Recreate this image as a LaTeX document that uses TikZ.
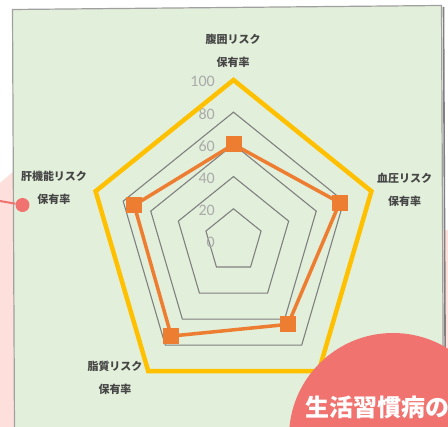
\documentclass[tikz,border=0pt]{standalone}
\usepackage{fontspec}
\newfontfamily\jpfont{Noto Sans CJK JP}
\newfontfamily\numfont{Carlito}
\usepackage{tikz}
\usetikzlibrary{positioning}

\definecolor{chartgreen}{RGB}{226,239,218}
\definecolor{boxgray}{RGB}{160,160,160}
\definecolor{ringgray}{RGB}{128,128,128}
\definecolor{tickgray}{RGB}{170,170,170}
\definecolor{labelgray}{RGB}{70,70,70}
\definecolor{exorange}{RGB}{237,125,49}
\definecolor{exyellow}{RGB}{255,192,0}
\definecolor{salmon}{RGB}{240,115,112}
\definecolor{blush}{RGB}{253,224,220}

\begin{document}
\begin{tikzpicture}[
    x=1pt, y=-1pt,
    axisname/.style={font=\jpfont\bfseries\fontsize{11}{23}\selectfont, text=labelgray, align=center, inner sep=0pt},
    ticklabel/.style={font=\numfont\fontsize{16}{16}\selectfont, text=tickgray, anchor=east, inner sep=0pt},
    ring/.style={draw=ringgray, line width=1.1pt},
    target/.style={draw=exyellow, line width=4.5pt},
    series/.style={draw=exorange, line width=3.5pt},
    marker/.style={rectangle, fill=exorange, minimum size=16pt, inner sep=0pt}
]

  \useasboundingbox (0,0) rectangle (448,427);
  \clip (0,0) rectangle (448,427);

  % Pink background behind the chart
  \fill[blush] (0,183) -- (14,171) -- (14,427) -- (0,427) -- cycle;
  \fill[blush] (443,230) rectangle (448,427);

  % Chart area (slightly tilted)
  \draw[boxgray!80!black, line width=1.6pt] (443.5,7) -- (445.5,432);
  \filldraw[fill=chartgreen, draw=boxgray, line width=1.2pt]
    (12.5,9.5) -- (441.5,5.5) -- (443.5,432) -- (14.5,432) -- cycle;

  \coordinate (c) at (233.5,241);

  \begin{scope}[shift={(c)}, x=1.45pt, y=1.61pt]

    % Grid rings
    \foreach \v in {20,40,...,100}
      \draw[ring] (90:\v) -- (18:\v) -- (-54:\v) -- (-126:\v) -- (162:\v) -- cycle;

    % Scale numbers
    \foreach \v in {0,20,...,100}
      \node[ticklabel, xshift=-18.5pt, yshift=-1.5pt] (tick\v) at (90:\v) {\v};

    % Target series (all 100)
    \draw[target] (90:100) -- (18:100) -- (-54:100) -- (-126:100) -- (162:100) -- cycle;

    % Data series
    \coordinate (waist) at (90:60);
    \coordinate (blood) at (18:77);
    \coordinate (sugar) at (-54:64);
    \coordinate (lipid) at (-126:73);
    \coordinate (liver) at (162:72);
    \draw[series] (waist) -- (blood) -- (sugar) -- (lipid) -- (liver) -- cycle;
    \foreach \p in {waist,blood,sugar,lipid,liver}
      \node[marker] (m\p) at (\p) {};

  \end{scope}

  % Axis names
  \node[axisname] (nwaist) at (233,50.5) {腹囲リスク\\保有率};
  \node[axisname] (nblood) at (404.5,189.5) {血圧リスク\\保有率};
  \node[axisname] (nliver) at (54,188) {肝機能リスク\\保有率};
  \node[axisname] (nlipid) at (115,377.5) {脂質リスク\\保有率};

  % Pointer dot on the left
  \node[circle, fill=salmon, minimum size=14pt, inner sep=0pt] (dot) at (22.5,205) {};
  \coordinate (dotend) at (0,201);
  \draw[salmon, line width=2pt] (dotend) -- (dot);

  % Badge in the corner
  \node[circle, fill=salmon, minimum size=208pt, inner sep=0pt] (badge) at (393,437) {};
  \node[font=\jpfont\bfseries\fontsize{24}{24}\selectfont, text=white, anchor=west, inner sep=0pt] (badgetext) at (305,407) {生活習慣病の};

\end{tikzpicture}
\end{document}
